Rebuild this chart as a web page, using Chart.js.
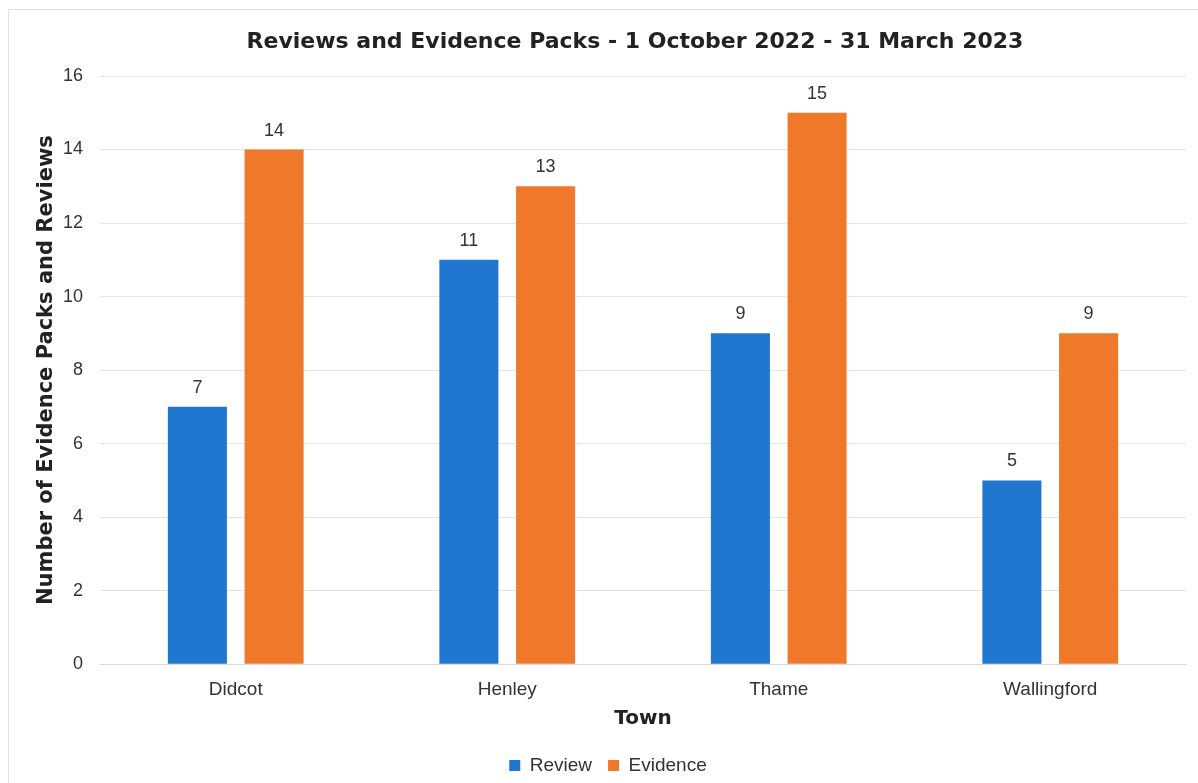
<!DOCTYPE html>
<html>
<head>
<meta charset="utf-8">
<script src="https://cdn.jsdelivr.net/npm/chart.js@4.4.0/dist/chart.umd.min.js"></script>
<style>
  html, body { margin: 0; padding: 0; background: #fff; }
  #wrap { position: absolute; left: 0; top: 0; width: 1198px; height: 783px; }
  #frame { position: absolute; left: 8px; top: 9px; width: 1200px; height: 800px; border: 1px solid #e2e2e2; }
</style>
</head>
<body>
<div id="wrap">
  <div id="frame"></div>
  <canvas id="barChart" width="1198" height="783"></canvas>
</div>
<script>
const towns = ['Didcot', 'Henley', 'Thame', 'Wallingford'];
const review = [7, 11, 9, 5];
const evidence = [14, 13, 15, 9];
const yTicks = [0, 2, 4, 6, 8, 10, 12, 14, 16];
const titulo = 'Reviews and Evidence Packs - 1 October 2022 - 31 March 2023';

const fonteTexto = '"Liberation Sans", Arial, sans-serif';
const fonteNegrito = '"DejaVu Sans", Arial, sans-serif';

// rótulos em cima das barras + título centrado na área do gráfico
const rotulos = {
  id: 'rotulos',
  afterDatasetsDraw(chart) {
    const ctx = chart.ctx;
    ctx.save();
    ctx.font = '18px ' + fonteTexto;
    ctx.fillStyle = '#333';
    ctx.textAlign = 'center';
    ctx.textBaseline = 'alphabetic';
    chart.data.datasets.forEach((ds, i) => {
      chart.getDatasetMeta(i).data.forEach((bar, j) => {
        ctx.fillText(ds.data[j], bar.x, bar.y - 14);
      });
    });
    const area = chart.chartArea;
    ctx.font = 'bold 22px ' + fonteNegrito;
    ctx.fillStyle = '#222';
    ctx.textBaseline = 'middle';
    ctx.fillText(titulo, (area.left + area.right) / 2 - 8, 42);
    ctx.restore();
  }
};

function gerarGrafico() {
  const ctx = document.getElementById('barChart').getContext('2d');
  new Chart(ctx, {
    type: 'bar',
    data: {
      labels: towns,
      datasets: [
        { label: 'Review', data: review, backgroundColor: '#2176CF', barPercentage: 0.77, categoryPercentage: 0.565 },
        { label: 'Evidence', data: evidence, backgroundColor: '#F0782A', barPercentage: 0.77, categoryPercentage: 0.565 }
      ]
    },
    options: {
      responsive: false,
      animation: false,
      layout: { padding: { left: 30, right: 12, top: 76, bottom: -2 } },
      plugins: {
        title: { display: false },
        legend: {
          position: 'bottom',
          labels: {
            boxWidth: 11, boxHeight: 11, color: '#333',
            font: { family: fonteTexto, size: 19 },
            padding: 16
          }
        },
        tooltip: { enabled: false }
      },
      scales: {
        x: {
          grid: { display: false },
          border: { color: '#d9d9d9' },
          ticks: { color: '#333', font: { family: fonteTexto, size: 19 }, padding: 6 },
          title: { display: true, text: 'Town', color: '#222', font: { family: fonteNegrito, size: 20, weight: 'bold' }, padding: { top: 0, bottom: 9 } }
        },
        y: {
          min: 0, max: 16,
          afterBuildTicks: axis => { axis.ticks = yTicks.map(v => ({ value: v })); },
          afterFit: axis => { axis.width = 70; },
          grid: { color: '#e4e4e4', drawTicks: false },
          border: { display: false },
          ticks: { color: '#333', font: { family: fonteTexto, size: 18 }, padding: 17 },
          title: { display: true, text: 'Number of Evidence Packs and Reviews', color: '#222', font: { family: fonteNegrito, size: 21, weight: 'bold' }, padding: { top: 4, bottom: 6 } }
        }
      }
    },
    plugins: [rotulos]
  });
}

document.addEventListener('DOMContentLoaded', gerarGrafico);
</script>
</body>
</html>
